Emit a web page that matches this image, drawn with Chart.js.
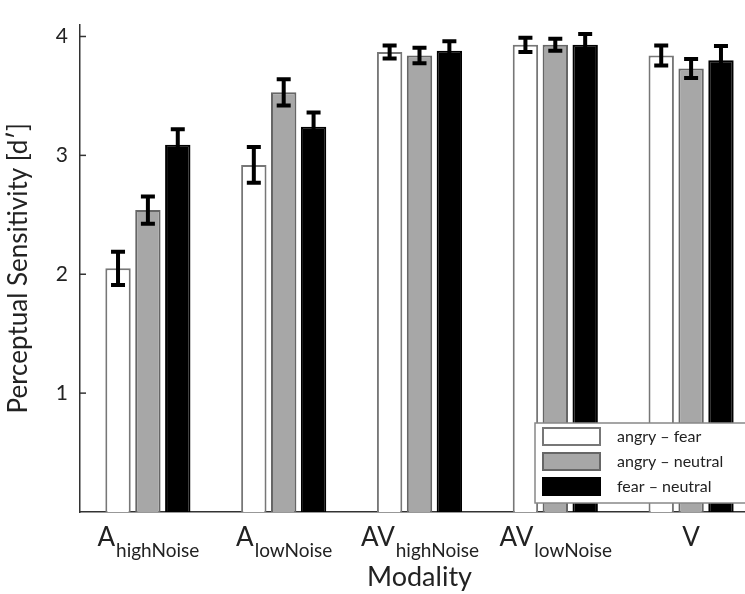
<!DOCTYPE html>
<html>
<head>
<meta charset="utf-8">
<script src="https://cdn.jsdelivr.net/npm/chart.js@4/dist/chart.umd.min.js"></script>
<style>
    html, body { margin: 0; padding: 0; background: #fff; overflow: hidden; }
    #wrap { width: 775px; height: 594px; }
</style>
</head>
<body>
<div id="wrap"><canvas id="chart" width="775" height="594"></canvas></div>
<script>
// Modality categories (main letter + subscript)
const labelMain = ['A', 'A', 'AV', 'AV', 'V'];
const labelSub = ['highNoise', 'lowNoise', 'highNoise', 'lowNoise', ''];

// Perceptual sensitivity d' per condition
const angryFear = [2.05, 2.92, 3.87, 3.93, 3.84];
const angryNeutral = [2.54, 3.53, 3.84, 3.93, 3.73];
const fearNeutral = [3.09, 3.24, 3.88, 3.93, 3.80];

// Error bar half-lengths
const angryFearErr = [0.14, 0.15, 0.055, 0.06, 0.085];
const angryNeutralErr = [0.115, 0.11, 0.065, 0.05, 0.08];
const fearNeutralErr = [0.13, 0.12, 0.08, 0.09, 0.12];

const yTicks = [1, 2, 3, 4];

const FONT = 'Lato, "Open Sans", sans-serif';

// Error bars drawn over each bar
const errorBars = {
    id: 'errorBars',
    afterDatasetsDraw(chart) {
        const ctx = chart.ctx;
        const y = chart.scales.y;
        ctx.save();
        ctx.strokeStyle = '#000';
        ctx.lineWidth = 4;
        chart.data.datasets.forEach((ds, di) => {
            const meta = chart.getDatasetMeta(di);
            meta.data.forEach((bar, i) => {
                const v = ds.data[i];
                const e = ds.errors[i];
                const top = y.getPixelForValue(v + e);
                const bot = y.getPixelForValue(v - e);
                ctx.beginPath();
                ctx.moveTo(bar.x, top);
                ctx.lineTo(bar.x, bot);
                ctx.moveTo(bar.x - 7, top);
                ctx.lineTo(bar.x + 7, top);
                ctx.moveTo(bar.x - 7, bot);
                ctx.lineTo(bar.x + 7, bot);
                ctx.stroke();
            });
        });
        ctx.restore();
    }
};

// Inward y ticks, subscripted x labels, and the legend box
const decorations = {
    id: 'decorations',
    afterDraw(chart) {
        const ctx = chart.ctx;
        const x = chart.scales.x;
        const y = chart.scales.y;
        const area = chart.chartArea;
        ctx.save();

        ctx.strokeStyle = '#333';
        ctx.lineWidth = 1.5;
        yTicks.forEach(t => {
            const py = y.getPixelForValue(t);
            ctx.beginPath();
            ctx.moveTo(area.left, py);
            ctx.lineTo(area.left + 6, py);
            ctx.stroke();
        });

        ctx.fillStyle = '#222';
        ctx.textBaseline = 'alphabetic';
        ctx.textAlign = 'left';
        labelMain.forEach((m, i) => {
            const cx = x.getPixelForValue(i);
            ctx.font = '26px ' + FONT;
            const wm = ctx.measureText(m).width;
            ctx.font = '19px ' + FONT;
            const ws = ctx.measureText(labelSub[i]).width;
            const left = cx - (wm + ws) / 2;
            ctx.font = '26px ' + FONT;
            ctx.fillText(m, left, 546);
            ctx.font = '19px ' + FONT;
            ctx.fillText(labelSub[i], left + wm + 1, 557);
        });

        // legend
        const lx = 535, ly = 423;
        ctx.fillStyle = '#fff';
        ctx.fillRect(lx, ly, 260, 80);
        ctx.strokeStyle = '#888';
        ctx.lineWidth = 1.5;
        ctx.strokeRect(lx, ly, 260, 80);
        chart.data.datasets.forEach((ds, i) => {
            const sy = 428 + i * 25;
            ctx.fillStyle = ds.backgroundColor;
            ctx.fillRect(543, sy, 57, 17);
            ctx.strokeStyle = ds.borderColor;
            ctx.lineWidth = 2;
            ctx.strokeRect(543, sy, 57, 17);
            ctx.fillStyle = '#222';
            ctx.font = '16px ' + FONT;
            ctx.textBaseline = 'middle';
            ctx.fillText(ds.label, 617, sy + 9);
        });
        ctx.restore();
    }
};

new Chart(document.getElementById('chart'), {
    type: 'bar',
    data: {
        labels: labelMain.map((m, i) => m + labelSub[i]),
        datasets: [
            { label: 'angry – fear', data: angryFear, errors: angryFearErr,
              backgroundColor: '#ffffff', borderColor: '#777777', borderWidth: 2 },
            { label: 'angry – neutral', data: angryNeutral, errors: angryNeutralErr,
              backgroundColor: '#a7a7a7', borderColor: '#666666', borderWidth: 2 },
            { label: 'fear – neutral', data: fearNeutral, errors: fearNeutralErr,
              backgroundColor: '#000000', borderColor: '#000000', borderWidth: 2 }
        ]
    },
    options: {
        responsive: false,
        animation: false,
        categoryPercentage: 0.66,
        barPercentage: 0.85,
        layout: { padding: { top: 13, right: 16, left: 0, bottom: 0 } },
        plugins: {
            legend: { display: false },
            tooltip: { enabled: false }
        },
        scales: {
            x: {
                grid: { display: false },
                border: { display: true, color: '#333', width: 1.5 },
                ticks: { display: false },
                title: {
                    display: true, text: 'Modality', color: '#222',
                    font: { family: FONT, size: 27 }, padding: { top: 0, bottom: 1 }
                },
                afterFit(scale) { scale.height = 82; }
            },
            y: {
                min: 0,
                max: 4.1,
                grid: { display: false, drawTicks: false },
                border: { display: true, color: '#333', width: 1.5 },
                ticks: {
                    stepSize: 1,
                    includeBounds: false,
                    padding: 12,
                    color: '#222',
                    font: { family: FONT, size: 21 },
                    callback: v => yTicks.includes(v) ? v : ''
                },
                title: {
                    display: true, text: 'Perceptual Sensitivity [d′]', color: '#222',
                    font: { family: FONT, size: 26 }, padding: { top: 3, bottom: 0 }
                },
                afterFit(scale) { scale.width = 80; }
            }
        }
    },
    plugins: [errorBars, decorations]
});
</script>
</body>
</html>
